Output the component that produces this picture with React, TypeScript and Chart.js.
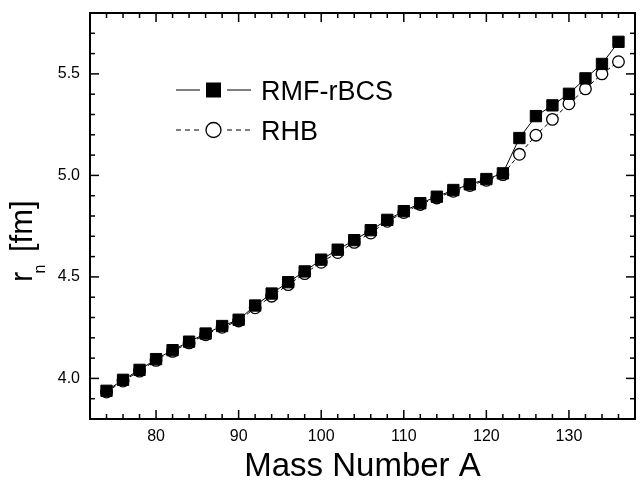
import React, { useEffect, useRef } from "react";
import { Chart, registerables } from "chart.js";

Chart.register(...registerables);

// ---- data ----
const massNumbers = [74, 76, 78, 80, 82, 84, 86, 88, 90, 92, 94, 96, 98, 100, 102, 104, 106, 108, 110, 112, 114, 116, 118, 120, 122, 124, 126, 128, 130, 132, 134, 136];
const rmfRbcs = [3.939, 3.993, 4.042, 4.095, 4.139, 4.181, 4.221, 4.258, 4.289, 4.359, 4.418, 4.474, 4.527, 4.585, 4.634, 4.681, 4.73, 4.781, 4.824, 4.863, 4.895, 4.928, 4.956, 4.982, 5.01, 5.184, 5.292, 5.345, 5.402, 5.478, 5.549, 5.658];
const rhb = [3.933, 3.987, 4.036, 4.089, 4.133, 4.175, 4.215, 4.252, 4.283, 4.348, 4.405, 4.462, 4.516, 4.572, 4.62, 4.67, 4.716, 4.774, 4.817, 4.857, 4.889, 4.922, 4.95, 4.976, 5.004, 5.104, 5.198, 5.276, 5.353, 5.426, 5.5, 5.56];
const seriesLabels = ["RMF-rBCS", "RHB"];
const xMajorTicks = [80, 90, 100, 110, 120, 130];
const yMajorTicks = [4.0, 4.5, 5.0, 5.5];
const xRange = [72, 138];
const yRange = [3.8, 5.8];
const xMinorStep = 2;
const yMinorStep = 0.1;
const xTitle = "Mass Number A";
const yTitleMain = "r";
const yTitleSub = "n";
const yTitleUnit = "[fm]";

const FONT = "'Liberation Sans', Arial, sans-serif";

const framePlugin = {
  id: "frameTicks",
  afterDatasetsDraw(chart: any) {
    const { ctx, chartArea, scales } = chart;
    const { left, right, top, bottom } = chartArea;
    const x = scales.x;
    const y = scales.y;
    ctx.save();
    ctx.strokeStyle = "#000";
    ctx.lineWidth = 1.5;
    const seg = (x1: number, y1: number, x2: number, y2: number) => {
      ctx.beginPath();
      ctx.moveTo(x1, y1);
      ctx.lineTo(x2, y2);
      ctx.stroke();
    };
    const nx = Math.round((xRange[1] - xRange[0]) / xMinorStep);
    for (let i = 0; i <= nx; i++) {
      const v = xRange[0] + i * xMinorStep;
      const px = x.getPixelForValue(v);
      const major = xMajorTicks.includes(v);
      const len = major ? 9 : 5;
      seg(px, bottom, px, bottom - len);
      seg(px, top, px, top + len);
    }
    const ny = Math.round((yRange[1] - yRange[0]) / yMinorStep);
    for (let i = 0; i <= ny; i++) {
      const v = Math.round((yRange[0] + i * yMinorStep) * 10) / 10;
      const py = y.getPixelForValue(v);
      const major = yMajorTicks.some((t) => Math.abs(t - v) < 1e-6);
      const len = major ? 9 : 5;
      seg(left, py, left + len, py);
      seg(right, py, right - len, py);
    }
    ctx.lineWidth = 2;
    ctx.strokeRect(left, top, right - left, bottom - top);
    ctx.restore();
  },
  afterDraw(chart: any) {
    const { ctx, chartArea } = chart;
    ctx.save();
    ctx.fillStyle = "#000";
    ctx.strokeStyle = "#000";
    // x title
    ctx.font = `33px ${FONT}`;
    ctx.textAlign = "center";
    ctx.textBaseline = "alphabetic";
    ctx.fillText(xTitle, (chartArea.left + chartArea.right) / 2, 476);
    // y title (rotated, with subscript)
    ctx.save();
    ctx.translate(31.7, 282);
    ctx.rotate(-Math.PI / 2);
    ctx.textAlign = "left";
    ctx.font = `31px ${FONT}`;
    ctx.fillText(yTitleMain, 0, 0);
    ctx.font = `16px ${FONT}`;
    ctx.fillText(yTitleSub, 8.5, 13.3);
    ctx.font = `31px ${FONT}`;
    ctx.fillText(yTitleUnit, 30, 0);
    ctx.restore();

    // legend
    ctx.lineWidth = 1;
    // row 1: solid + square
    let ly = 90;
    ctx.setLineDash([]);
    ctx.beginPath();
    ctx.moveTo(176, ly); ctx.lineTo(200, ly);
    ctx.moveTo(227, ly); ctx.lineTo(251, ly);
    ctx.stroke();
    ctx.fillRect(213.5 - 7.5, ly - 7.5, 15, 15);
    ctx.font = `27px ${FONT}`;
    ctx.textAlign = "left";
    ctx.fillText(seriesLabels[0], 261, ly + 10);
    // row 2: dashed + circle
    ly = 130;
    ctx.setLineDash([5, 4]);
    ctx.beginPath();
    ctx.moveTo(176, ly); ctx.lineTo(200, ly);
    ctx.moveTo(227, ly); ctx.lineTo(251, ly);
    ctx.stroke();
    ctx.setLineDash([]);
    ctx.lineWidth = 1.3;
    ctx.beginPath();
    ctx.arc(213.5, ly, 7.5, 0, Math.PI * 2);
    ctx.fillStyle = "#fff";
    ctx.fill();
    ctx.stroke();
    ctx.fillStyle = "#000";
    ctx.fillText(seriesLabels[1], 261, ly + 10);
    ctx.restore();
  },
};

export default function App() {
  const canvasRef = useRef<HTMLCanvasElement | null>(null);

  useEffect(() => {
    const canvas = canvasRef.current;
    if (!canvas) return;
    const chart = new Chart(canvas, {
      type: "line",
      data: {
        datasets: [
          {
            label: seriesLabels[0],
            data: massNumbers.map((a, i) => ({ x: a, y: rmfRbcs[i] })),
            borderColor: "#000",
            backgroundColor: "#000",
            borderWidth: 1,
            pointStyle: "rect",
            pointRadius: 8,
            pointBorderWidth: 1,
            pointBackgroundColor: "#000",
            pointBorderColor: "#000",
            tension: 0,
          },
          {
            label: seriesLabels[1],
            data: massNumbers.map((a, i) => ({ x: a, y: rhb[i] })),
            borderColor: "#000",
            backgroundColor: "#fff",
            borderWidth: 1,
            borderDash: [4, 3],
            pointStyle: "circle",
            pointRadius: 5.8,
            pointBorderWidth: 1.3,
            pointBackgroundColor: "#fff",
            pointBorderColor: "#000",
            tension: 0,
          },
        ],
      },
      options: {
        responsive: false,
        animation: false,
        devicePixelRatio: 1,
        layout: { padding: { top: 13, right: 2, left: 0, bottom: 0 } },
        plugins: {
          legend: { display: false },
          tooltip: { enabled: false },
        },
        scales: {
          x: {
            type: "linear",
            position: "bottom",
            min: xRange[0],
            max: xRange[1],
            grid: { display: false, drawTicks: false },
            border: { display: false },
            ticks: {
              color: "#000",
              padding: 8,
              font: { family: FONT, size: 16 },
              maxRotation: 0,
              callback: (v: any) => String(v),
            },
            afterBuildTicks: (scale: any) => {
              scale.ticks = xMajorTicks.map((v) => ({ value: v }));
            },
            afterFit: (scale: any) => {
              scale.height = 66;
              scale.paddingLeft = 0;
              scale.paddingRight = 0;
            },
          },
          y: {
            type: "linear",
            position: "left",
            min: yRange[0],
            max: yRange[1],
            grid: { display: false, drawTicks: false },
            border: { display: false },
            ticks: {
              color: "#000",
              padding: 10,
              font: { family: FONT, size: 16 },
              callback: (v: any) => Number(v).toFixed(1),
            },
            afterBuildTicks: (scale: any) => {
              scale.ticks = yMajorTicks.map((v) => ({ value: v }));
            },
            afterFit: (scale: any) => {
              scale.width = 90;
              scale.paddingTop = 0;
              scale.paddingBottom = 0;
            },
          },
        },
      },
      plugins: [framePlugin],
    });
    return () => chart.destroy();
  }, []);

  return (
    <div style={{ position: "fixed", left: 0, top: 0, width: 644, height: 485, background: "#fff" }}>
      <canvas ref={canvasRef} width={644} height={485} style={{ display: "block", width: 644, height: 485 }} />
    </div>
  );
}
